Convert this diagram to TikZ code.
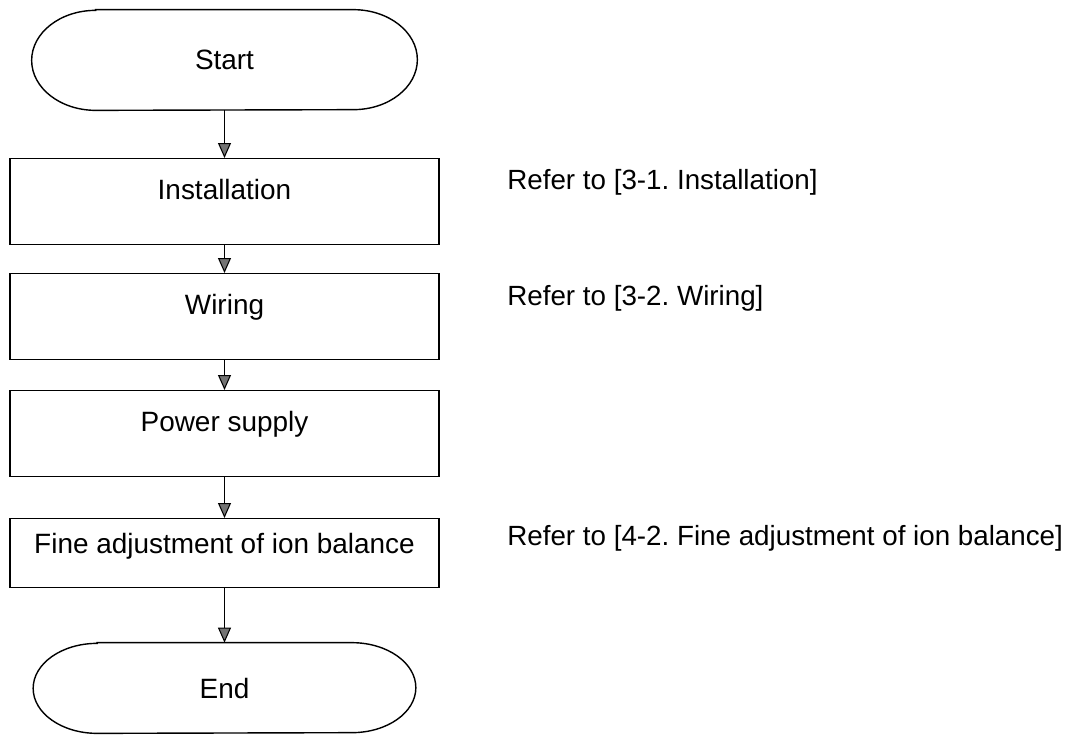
\documentclass[tikz,border=0pt]{standalone}
\usepackage{fontspec}
\setmainfont{Liberation Sans}
\usetikzlibrary{arrows.meta}
\frenchspacing

\begin{document}
\begin{tikzpicture}[font=\fontsize{15.9}{19}\selectfont,
    stepbox/.style={draw, line width=0.8pt, minimum width=8.58cm, inner sep=0pt, text height=0.82cm, text depth=0.9cm},
    termbox/.style={minimum width=7.7cm, minimum height=2cm, inner sep=0pt},
    reftext/.style={anchor=base west, inner sep=0pt, font=\fontsize{15.8}{19}\selectfont},
    flow/.style={-{Triangle[width=0.26cm,length=0.3cm,fill=black!55]}, line width=0.6pt}]
    \useasboundingbox (0,0) rectangle (21.42,-14.68);

    \coordinate (S) at (4.49,-1.2);
    \coordinate (I) at (4.49,-3.16);
    \coordinate (II) at (4.49,-5.46);
    \coordinate (III) at (4.49,-7.8);
    \coordinate (IV) at (4.49,-10.36);
    \coordinate (E) at (4.49,-13.76);

    \node[termbox] (start) at (S) {Start};
    \node[stepbox, anchor=north] (install) at (I) {Installation};
    \node[stepbox, anchor=north] (wiring) at (II) {Wiring};
    \node[stepbox, anchor=north] (power) at (III) {Power supply};
    \node[stepbox, anchor=north, text height=0.7cm, text depth=0.68cm] (adjust) at (IV) {Fine adjustment of ion balance};
    \node[termbox, minimum width=7.64cm, minimum height=1.8cm] (end) at (E) {End};

    \node[reftext] (refI) at (10.14,-3.78) {Refer to [3-1. Installation]};
    \node[reftext] (refII) at (10.14,-6.1) {Refer to [3-2. Wiring]};
    \node[reftext] (refIV) at (10.14,-10.9) {Refer to [4-2. Fine adjustment of ion balance]};

    % terminal outlines
    \draw[line width=0.8pt] ([xshift=1.28cm]start.north west) -- ([xshift=-1.28cm]start.north east)
        arc[start angle=90, end angle=-90, x radius=1.28cm, y radius=1cm]
        -- ([xshift=1.28cm]start.south west)
        arc[start angle=270, end angle=90, x radius=1.28cm, y radius=1cm] -- cycle;
    \draw[line width=0.8pt] ([xshift=1.28cm]end.north west) -- ([xshift=-1.28cm]end.north east)
        arc[start angle=90, end angle=-90, x radius=1.28cm, y radius=0.9cm]
        -- ([xshift=1.28cm]end.south west)
        arc[start angle=270, end angle=90, x radius=1.28cm, y radius=0.9cm] -- cycle;

    \draw[flow] (start.south) -- (install.north);
    \draw[flow] (install.south) -- (wiring.north);
    \draw[flow] (wiring.south) -- (power.north);
    \draw[flow] (power.south) -- (adjust.north);
    \draw[flow] (adjust.south) -- (end.north);
\end{tikzpicture}
\end{document}
